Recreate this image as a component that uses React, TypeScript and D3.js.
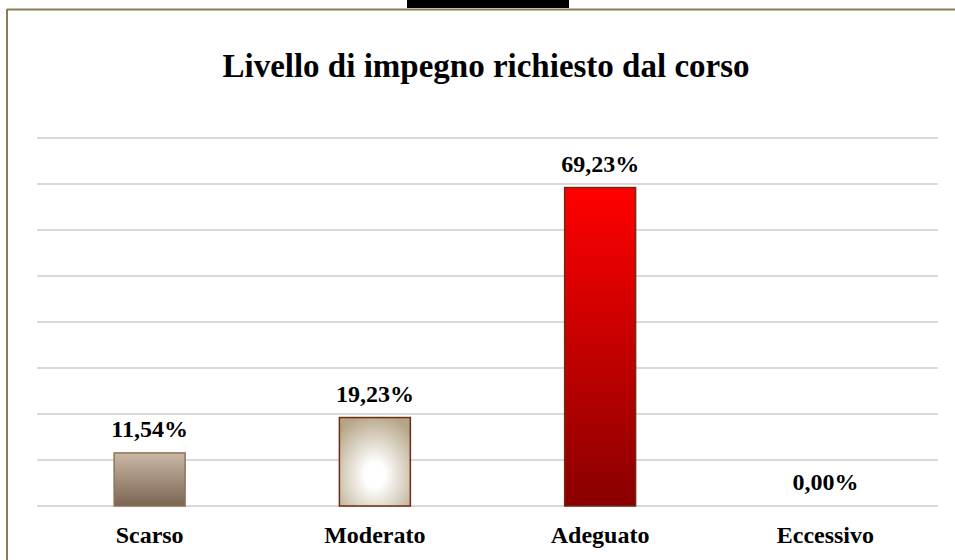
import React from "react";
import * as d3 from "d3";

const categories = ["Scarso", "Moderato", "Adeguato", "Eccessivo"];
const values = [11.54, 19.23, 69.23, 0.0];
const yTicks = [0, 10, 20, 30, 40, 50, 60, 70, 80];
const title = "Livello di impegno richiesto dal corso";

const W = 955;
const H = 560;
const plot = { left: 37, right: 938, top: 138, bottom: 506 };
const FONT = "'Liberation Serif', 'DejaVu Serif', serif";

const fills = ["url(#gScarso)", "url(#gModerato)", "url(#gAdeguato)", "url(#gAdeguato)"];
const strokes = ["#8c7358", "#6e2a14", "#6e2a14", "#6e2a14"];

export default function App() {
  const x = d3.scaleBand<string>().domain(categories).range([plot.left, plot.right]).paddingInner(0.685).paddingOuter(0.3425);
  const y = d3.scaleLinear().domain([0, 80]).range([plot.bottom, plot.top]);
  const fmt = (v: number) => v.toFixed(2).replace(".", ",") + "%";

  return (
    <svg width={W} height={H} style={{ position: "absolute", left: 0, top: 0, background: "#fff" }}>
      <defs>
        <linearGradient id="gScarso" x1="0" y1="0" x2="0" y2="1">
          <stop offset="0" stopColor="#cbb8a6" />
          <stop offset="1" stopColor="#7c6452" />
        </linearGradient>
        <radialGradient id="gModerato" cx="0.5" cy="0.65" r="0.7">
          <stop offset="0.2" stopColor="#ffffff" />
          <stop offset="1" stopColor="#b5a587" />
        </radialGradient>
        <linearGradient id="gAdeguato" x1="0" y1="0" x2="0" y2="1">
          <stop offset="0" stopColor="#ff0000" />
          <stop offset="1" stopColor="#8a0000" />
        </linearGradient>
      </defs>
      <rect x={0} y={0} width={W} height={H} fill="#fff" />
      <rect x={407} y={0} width={162} height={8} fill="#000" />
      <line x1={7} y1={9.5} x2={W} y2={9.5} stroke="#8b7b5b" strokeWidth={2} />
      <line x1={7} y1={9} x2={7} y2={H} stroke="#8b7b5b" strokeWidth={2} />
      <text x={486} y={77} textAnchor="middle" fontFamily={FONT} fontWeight="bold" fontSize={33} fill="#000">
        {title}
      </text>
      {yTicks.map((t) => (
        <line key={t} x1={plot.left} x2={plot.right} y1={y(t)} y2={y(t)} stroke="#d9d9d9" strokeWidth={2} />
      ))}
      {categories.map((c, i) => {
        const bx = x(c)!;
        const by = y(values[i]);
        const bh = y(0) - by;
        return (
          <g key={c}>
            {bh > 0 && (
              <rect x={bx} y={by} width={x.bandwidth()} height={bh} fill={fills[i]} stroke={strokes[i]} strokeWidth={1.5} />
            )}
            <text x={bx + x.bandwidth() / 2} y={by - 16} textAnchor="middle" fontFamily={FONT} fontWeight="bold" fontSize={24} fill="#000">
              {fmt(values[i])}
            </text>
            <text x={bx + x.bandwidth() / 2} y={543} textAnchor="middle" fontFamily={FONT} fontWeight="bold" fontSize={24} fill="#000">
              {c}
            </text>
          </g>
        );
      })}
    </svg>
  );
}
